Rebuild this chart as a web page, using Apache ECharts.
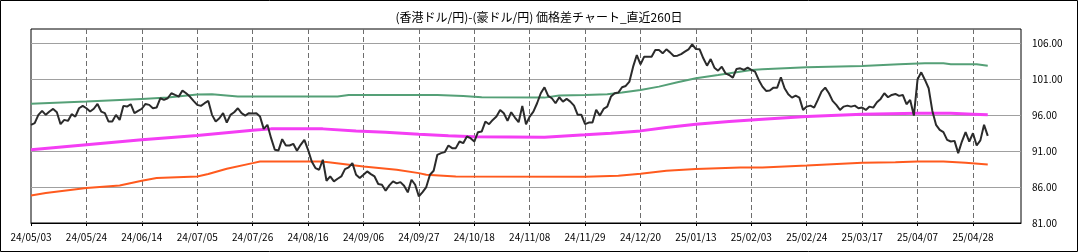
<!DOCTYPE html>
<html>
<head>
<meta charset="utf-8">
<script src="https://cdn.jsdelivr.net/npm/echarts@6/dist/echarts.min.js"></script>
<style>
  html, body { margin: 0; padding: 0; background: #fff; }
  #chart { width: 1078px; height: 252px; }
</style>
</head>
<body>
<div id="chart"></div>
<script>
// 目盛りラベル (15営業日ごと)
const tickLabels = ['24/05/03', '24/05/24', '24/06/14', '24/07/05', '24/07/26', '24/08/16',
  '24/09/06', '24/09/27', '24/10/18', '24/11/08', '24/11/29', '24/12/20',
  '25/01/13', '25/02/03', '25/02/24', '25/03/17', '25/04/07', '25/04/28']

// 価格差 (直近260日)
const spread = [
  94.66, 94.89, 96.05, 96.60, 96.05, 96.51, 96.88, 96.42, 94.75, 95.35,
  95.21, 96.14, 95.81, 96.97, 97.30, 96.97, 96.51, 96.90, 97.57, 96.51,
  96.28, 95.12, 95.12, 96.05, 95.35, 97.30, 97.20, 97.53, 96.28, 96.60,
  96.90, 97.57, 97.44, 96.97, 97.06, 98.36, 98.13, 98.36, 99.06, 98.82,
  98.59, 99.43, 99.06, 98.59, 97.99, 97.44, 97.30, 97.67, 97.99, 96.05,
  95.12, 95.58, 96.28, 94.98, 96.05, 96.42, 96.97, 96.28, 95.95, 96.28,
  96.23, 96.28, 95.81, 94.10, 94.66, 92.81, 91.19, 91.10, 92.67, 91.79,
  91.79, 92.02, 91.05, 91.88, 92.57, 91.19, 89.56, 88.64, 88.41, 89.80,
  86.88, 87.48, 86.79, 87.16, 87.48, 88.50, 88.73, 89.33, 87.71, 87.25,
  87.71, 88.18, 87.81, 87.48, 86.42, 86.32, 85.49, 86.23, 86.79, 86.51,
  86.69, 86.19, 85.26, 87.02, 86.32, 84.70, 85.31, 86.00, 87.71, 88.27,
  90.49, 90.72, 90.86, 91.79, 91.42, 91.42, 92.34, 92.11, 93.04, 92.81,
  92.34, 93.64, 93.73, 95.12, 94.75, 95.35, 95.81, 96.74, 96.28, 95.21,
  96.42, 95.68, 95.03, 97.30, 94.75, 95.81, 96.51, 97.67, 99.06, 99.89,
  98.69, 98.36, 97.67, 98.50, 97.90, 98.27, 97.90, 97.34, 96.05, 96.05,
  94.75, 94.98, 94.98, 96.74, 95.95, 96.88, 97.20, 98.59, 99.06, 99.15,
  99.89, 100.07, 100.68, 102.76, 104.38, 103.08, 104.15, 104.15, 104.15, 105.07,
  105.07, 104.61, 105.17, 104.75, 104.24, 104.29, 104.50, 104.84, 105.17, 105.86,
  105.21, 105.17, 103.92, 102.90, 103.82, 102.62, 102.20, 102.76, 101.83, 101.60,
  101.23, 102.44, 102.53, 102.30, 102.62, 102.30, 102.06, 100.91, 99.98, 99.38,
  99.43, 99.84, 99.84, 101.28, 99.75, 98.92, 98.45, 98.73, 98.45, 96.74,
  97.20, 97.34, 97.06, 98.13, 99.29, 99.84, 99.06, 97.99, 97.44, 96.74,
  97.20, 97.34, 97.20, 97.34, 96.97, 97.06, 96.74, 97.20, 97.06, 97.81,
  98.27, 99.06, 98.50, 98.82, 98.96, 98.69, 98.82, 97.53, 98.13, 95.95,
  101.00, 101.97, 100.91, 99.75, 96.60, 94.66, 93.96, 93.64, 92.57, 92.34,
  92.43, 90.72, 92.34, 93.64, 92.34, 93.50, 91.79, 92.50, 94.66, 93.13
]

// 上側ライン (日番号, 値)
const upperLine = [
  [0, 97.60], [15, 97.90], [30, 98.27], [37, 98.45], [45, 98.90], [49, 98.92],
  [56, 98.59], [67, 98.59], [83, 98.59], [86, 98.82], [110, 98.82], [117, 98.69],
  [122, 98.50], [139, 98.45], [143, 98.73], [150, 98.82], [156, 98.92], [160, 99.15],
  [165, 99.52], [170, 99.98], [175, 100.58], [180, 101.14], [186, 101.60], [195, 102.30],
  [198, 102.40], [210, 102.67], [225, 102.85], [235, 103.08], [242, 103.22], [247, 103.22],
  [249, 103.10], [256, 103.08], [259, 102.88]
]
// 中央ライン
const middleLine = [
  [0, 91.19], [15, 91.88], [30, 92.57], [45, 93.18], [60, 93.92], [65, 94.10],
  [79, 94.10], [88, 93.82], [96, 93.64], [105, 93.36], [113, 93.13], [120, 92.99],
  [139, 92.94], [150, 93.27], [157, 93.50], [165, 93.82], [172, 94.29], [180, 94.75],
  [189, 95.12], [198, 95.44], [210, 95.81], [225, 96.14], [240, 96.28], [249, 96.28],
  [255, 96.14], [259, 96.05]
]
// 下側ライン
const lowerLine = [
  [0, 84.84], [4, 85.17], [15, 85.86], [24, 86.23], [30, 86.88], [34, 87.25],
  [45, 87.48], [48, 87.81], [53, 88.55], [60, 89.33], [62, 89.56], [78, 89.56],
  [80, 89.50], [90, 88.87], [99, 88.41], [105, 87.94], [107, 87.71], [115, 87.48],
  [150, 87.44], [159, 87.57], [165, 87.85], [172, 88.27], [180, 88.50], [192, 88.73],
  [198, 88.73], [210, 89.00], [225, 89.38], [234, 89.47], [240, 89.56], [247, 89.56],
  [253, 89.38], [259, 89.15]
]

const font = '"Noto Sans CJK JP", "Noto Sans", sans-serif'

let myChart = echarts.init(document.getElementById('chart'))
myChart.setOption({
  backgroundColor: '#fff',
  animation: false,
  title: {
    text: '(香港ドル/円)-(豪ドル/円) 価格差チャート_直近260日',
    left: 'center',
    top: 6,
    textStyle: { color: '#000', fontWeight: 'normal', fontSize: 12, fontFamily: font }
  },
  graphic: [{
    type: 'rect',
    shape: { x: 0.5, y: 0.5, width: 1077, height: 251 },
    style: { fill: 'none', stroke: '#000', lineWidth: 1 },
    silent: true
  }],
  grid: {
    left: 31,
    right: 57,
    top: 29,
    bottom: 29,
    show: true,
    borderColor: '#000',
    borderWidth: 1
  },
  xAxis: {
    type: 'value',
    min: 0,
    max: 268,
    interval: 15,
    axisLine: { show: true, lineStyle: { color: '#000', width: 1 } },
    axisTick: { show: true, length: 3, lineStyle: { color: '#000' } },
    axisLabel: {
      color: '#000',
      fontSize: 10,
      fontFamily: font,
      margin: 9,
      showMaxLabel: false,
      formatter: function (v) { return tickLabels[v / 15] || '' }
    },
    splitLine: {
      show: true,
      showMinLine: false,
      showMaxLine: false,
      lineStyle: { color: '#6e6e6e', width: 1, type: [5, 3] }
    }
  },
  yAxis: {
    type: 'value',
    position: 'right',
    min: 81,
    max: 108,
    interval: 5,
    axisLine: { show: false },
    axisTick: { show: false },
    axisLabel: {
      color: '#000',
      fontSize: 10,
      fontFamily: font,
      margin: 11,
      showMaxLabel: false,
      formatter: function (v) { return v.toFixed(2) }
    },
    splitLine: {
      show: true,
      showMinLine: false,
      showMaxLine: false,
      lineStyle: { color: '#a0a0a0', width: 1, type: 'solid' }
    }
  },
  series: [
    {
      name: 'upper',
      type: 'line',
      data: upperLine,
      showSymbol: false,
      lineStyle: { color: '#55a077', width: 2 }
    },
    {
      name: 'middle',
      type: 'line',
      data: middleLine,
      showSymbol: false,
      lineStyle: { color: '#f43ef4', width: 3 }
    },
    {
      name: 'lower',
      type: 'line',
      data: lowerLine,
      showSymbol: false,
      lineStyle: { color: '#ff5a1e', width: 2 }
    },
    {
      name: 'spread',
      type: 'line',
      data: spread.map(function (v, i) { return [i, v] }),
      showSymbol: false,
      lineStyle: { color: '#2b2b2b', width: 2 }
    }
  ]
})
</script>
</body>
</html>
